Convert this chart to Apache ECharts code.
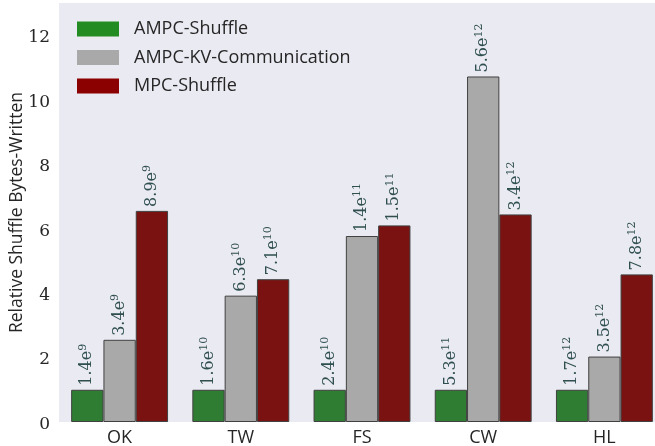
<!DOCTYPE html>
<html><head><meta charset="utf-8">
<script src="https://cdn.jsdelivr.net/npm/echarts@6/dist/echarts.min.js"></script>
<style>html,body{margin:0;padding:0;background:#fff}#c{width:655px;height:446px}</style>
</head><body><div id="c"></div>
<script>
const categories = ['OK', 'TW', 'FS', 'CW', 'HL'];
const seriesNames = ['AMPC-Shuffle', 'AMPC-KV-Communication', 'MPC-Shuffle'];
const ampcShuffle = [1.0, 1.0, 1.0, 1.0, 1.0];
const ampcKV = [2.55, 3.92, 5.77, 10.72, 2.03];
const mpcShuffle = [6.55, 4.43, 6.10, 6.44, 4.58];
const ampcShuffleLabels = ['1.4e9', '1.6e10', '2.4e10', '5.3e11', '1.7e12'];
const ampcKVLabels = ['3.4e9', '6.3e10', '1.4e11', '5.6e12', '3.5e12'];
const mpcShuffleLabels = ['8.9e9', '7.1e10', '1.5e11', '3.4e12', '7.8e12'];
const yTicks = [0, 2, 4, 6, 8, 10, 12];

const barColors = ['#2E7D32', '#A9A9A9', '#7A1212'];
const legendColors = ['#228B22', '#A9A9A9', '#8B0000'];

function mkLabel(labels) {
  return {
    show: true, position: 'top', rotate: 90, align: 'left', verticalAlign: 'middle', distance: 4,
    formatter: p => {
      const s = labels[p.dataIndex];
      const i = s.indexOf('e');
      return '{b|' + s.slice(0, i + 1) + '}{s|' + s.slice(i + 1) + '}';
    },
    rich: {
      b: { fontFamily: 'DejaVu Serif', fontSize: 16, color: '#2F4F4F', lineHeight: 20 },
      s: { fontFamily: 'DejaVu Serif', fontSize: 11, color: '#2F4F4F', verticalAlign: 'top', lineHeight: 20 }
    }
  };
}
const vals = [ampcShuffle, ampcKV, mpcShuffle];
const labs = [ampcShuffleLabels, ampcKVLabels, mpcShuffleLabels];

const chart = echarts.init(document.getElementById('c'));
chart.setOption({
  animation: false,
  grid: { left: 59, top: 3, width: 606, height: 419, show: true, backgroundColor: '#EAEAF2', borderWidth: 0,
    outerBoundsMode: 'none', containLabel: false },
  legend: {
    orient: 'vertical', left: 77, top: 20, padding: 0, itemWidth: 42, itemHeight: 15, itemGap: 10.5,
    icon: 'rect',
    textStyle: { fontFamily: 'Open Sans', fontSize: 18, color: '#262626', padding: [0, 0, 0, 10] },
    data: seriesNames.map((n, i) => ({ name: n, itemStyle: { color: legendColors[i], borderWidth: 0 } }))
  },
  xAxis: {
    type: 'category', data: categories,
    axisLine: { show: false }, axisTick: { show: false },
    axisLabel: { fontFamily: 'Open Sans', fontSize: 18, color: '#262626', margin: 7 }
  },
  yAxis: {
    type: 'value', min: 0, max: 13, interval: 2,
    splitLine: { show: false }, axisLine: { show: false }, axisTick: { show: false },
    axisLabel: { fontFamily: 'DejaVu Serif', fontSize: 17, color: '#262626', margin: 9,
      verticalAlign: 'top', lineHeight: 5,
      formatter: v => yTicks.includes(v) ? String(v) : '' },
    name: 'Relative Shuffle Bytes-Written', nameLocation: 'middle', nameGap: 33, nameMoveOverlap: false,
    nameTextStyle: { fontFamily: 'Open Sans', fontSize: 17.5, color: '#262626' }
  },
  series: seriesNames.map((n, i) => ({
    name: n, type: 'bar', data: vals[i], barWidth: 32.3, barGap: '0%',
    itemStyle: { color: barColors[i], borderColor: '#404040', borderWidth: 1 },
    label: mkLabel(labs[i])
  }))
});
</script></body></html>
